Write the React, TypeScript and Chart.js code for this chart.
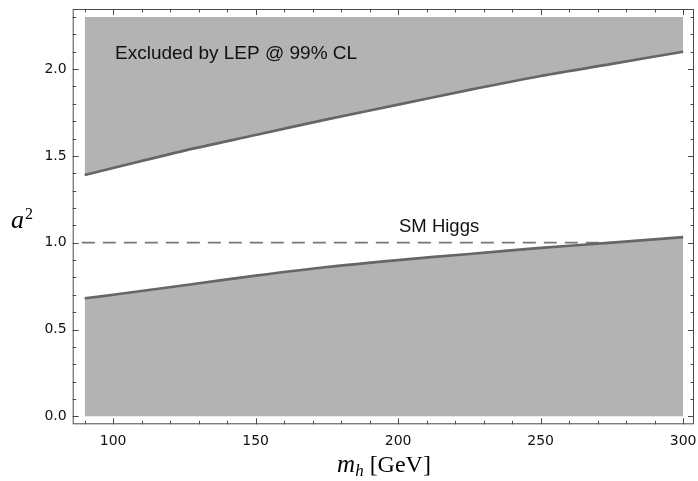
import React, { useEffect, useRef } from "react";
import { Chart, registerables } from "chart.js";

Chart.register(...registerables);

const massPoints = [90, 100, 125, 150, 175, 200, 225, 250, 275, 300];
const upperBound = [1.39, 1.43, 1.53, 1.62, 1.71, 1.795, 1.88, 1.96, 2.03, 2.10];
const lowerBound = [0.68, 0.70, 0.755, 0.81, 0.86, 0.90, 0.935, 0.97, 1.00, 1.032];
const smHiggsX = [89, 300];
const smHiggsY = [1.0, 1.0];
const xMajorTicks = [100, 150, 200, 250, 300];
const yMajorTicks = [0, 0.5, 1.0, 1.5, 2.0];
const plotTop = 2.3;
const plotBottom = 0;

const FILL = "#b3b3b3";
const LINE = "#666666";
const FRAME = "#4a4a4a";

const framePlugin = {
  id: "framePlugin",
  afterDraw(chart: any) {
    const { ctx, chartArea: a, scales } = chart;
    const xs = scales.x;
    const ys = scales.y;
    ctx.save();
    ctx.strokeStyle = FRAME;
    ctx.lineWidth = 1;
    ctx.strokeRect(a.left + 0.5, a.top + 0.5, a.right - a.left - 1, a.bottom - a.top - 1);
    ctx.beginPath();
    for (let v = 90; v <= 300; v += 10) {
      const px = Math.round(xs.getPixelForValue(v)) + 0.5;
      const len = v % 50 === 0 ? 6 : 3.5;
      ctx.moveTo(px, a.bottom);
      ctx.lineTo(px, a.bottom - len);
      ctx.moveTo(px, a.top);
      ctx.lineTo(px, a.top + len);
    }
    for (let i = 0; i <= 23; i++) {
      const v = i / 10;
      const py = Math.round(ys.getPixelForValue(v)) + 0.5;
      const len = i % 5 === 0 ? 6 : 3.5;
      ctx.moveTo(a.left, py);
      ctx.lineTo(a.left + len, py);
      ctx.moveTo(a.right, py);
      ctx.lineTo(a.right - len, py);
    }
    ctx.stroke();

    // annotations
    ctx.fillStyle = "#111";
    ctx.textBaseline = "alphabetic";
    ctx.textAlign = "left";
    ctx.font = "19px 'Liberation Sans', Arial, sans-serif";
    ctx.fillText("Excluded by LEP @ 99% CL", 115, 58.5);
    ctx.font = "18.5px 'Liberation Sans', Arial, sans-serif";
    ctx.fillText("SM Higgs", 399, 231.5);

    // y axis title a^2
    ctx.fillStyle = "#000";
    ctx.font = "italic 26px 'Liberation Serif', 'Times New Roman', serif";
    ctx.fillText("a", 11, 228);
    const aw = ctx.measureText("a").width;
    ctx.font = "16px 'Liberation Serif', 'Times New Roman', serif";
    ctx.fillText("2", 11 + aw + 1, 219);

    // x axis title m_h [GeV]
    ctx.font = "italic 25px 'Liberation Serif', 'Times New Roman', serif";
    const mW = ctx.measureText("m").width;
    ctx.font = "italic 17px 'Liberation Serif', 'Times New Roman', serif";
    const hW = ctx.measureText("h").width;
    ctx.font = "24px 'Liberation Serif', 'Times New Roman', serif";
    const gW = ctx.measureText(" [GeV]").width;
    const total = mW + hW + gW;
    let x0 = 384 - total / 2;
    ctx.font = "italic 25px 'Liberation Serif', 'Times New Roman', serif";
    ctx.fillText("m", x0, 471.5);
    x0 += mW;
    ctx.font = "italic 17px 'Liberation Serif', 'Times New Roman', serif";
    ctx.fillText("h", x0, 476);
    x0 += hW;
    ctx.font = "24px 'Liberation Serif', 'Times New Roman', serif";
    ctx.fillText(" [GeV]", x0, 471.5);
    ctx.restore();
  },
};

export default function App() {
  const ref = useRef<HTMLCanvasElement | null>(null);
  useEffect(() => {
    document.body.style.margin = "0";
    const canvas = ref.current!;
    const upper = massPoints.map((x, i) => ({ x, y: upperBound[i] }));
    const lower = massPoints.map((x, i) => ({ x, y: lowerBound[i] }));
    const sm = smHiggsX.map((x, i) => ({ x, y: smHiggsY[i] }));
    const chart = new Chart(canvas, {
      type: "line",
      data: {
        datasets: [
          {
            data: upper,
            borderColor: LINE,
            borderWidth: 2.7,
            backgroundColor: FILL,
            fill: { value: plotTop },
            pointRadius: 0,
            tension: 0.3,
          },
          {
            data: lower,
            borderColor: LINE,
            borderWidth: 2.7,
            backgroundColor: FILL,
            fill: { value: plotBottom },
            pointRadius: 0,
            tension: 0.3,
          },
          {
            data: sm,
            borderColor: "#777777",
            borderWidth: 1.7,
            borderDash: [13, 8],
            fill: false,
            pointRadius: 0,
          },
        ],
      },
      options: {
        responsive: false,
        animation: false,
        events: [],
        layout: { padding: { top: 9, right: 4, left: 0, bottom: 0 } },
        plugins: { legend: { display: false }, tooltip: { enabled: false } },
        scales: {
          x: {
            type: "linear",
            min: 85.8,
            max: 303.8,
            grid: { display: false, drawTicks: false },
            border: { display: false },
            afterBuildTicks: (s: any) => {
              s.ticks = xMajorTicks.map((v) => ({ value: v }));
            },
            afterFit: (s: any) => {
              s.height = 56.7;
              s.paddingLeft = 0;
              s.paddingRight = 0;
            },
            ticks: {
              padding: 9,
              color: "#111",
              maxRotation: 0,
              font: { family: "'DejaVu Sans', sans-serif", size: 14 },
              callback: (v: any) => String(v),
            },
          },
          y: {
            type: "linear",
            min: -0.046,
            max: 2.346,
            grid: { display: false, drawTicks: false },
            border: { display: false },
            afterBuildTicks: (s: any) => {
              s.ticks = yMajorTicks.map((v) => ({ value: v }));
            },
            afterFit: (s: any) => {
              s.width = 72.7;
              s.paddingTop = 0;
              s.paddingBottom = 0;
            },
            ticks: {
              padding: 6,
              color: "#111",
              font: { family: "'DejaVu Sans', sans-serif", size: 14 },
              callback: (v: any) => Number(v).toFixed(1),
            },
          },
        },
      },
      plugins: [framePlugin],
    });
    return () => chart.destroy();
  }, []);
  return (
    <div style={{ width: 698, height: 481 }}>
      <canvas ref={ref} width={698} height={481} style={{ display: "block" }} />
    </div>
  );
}
